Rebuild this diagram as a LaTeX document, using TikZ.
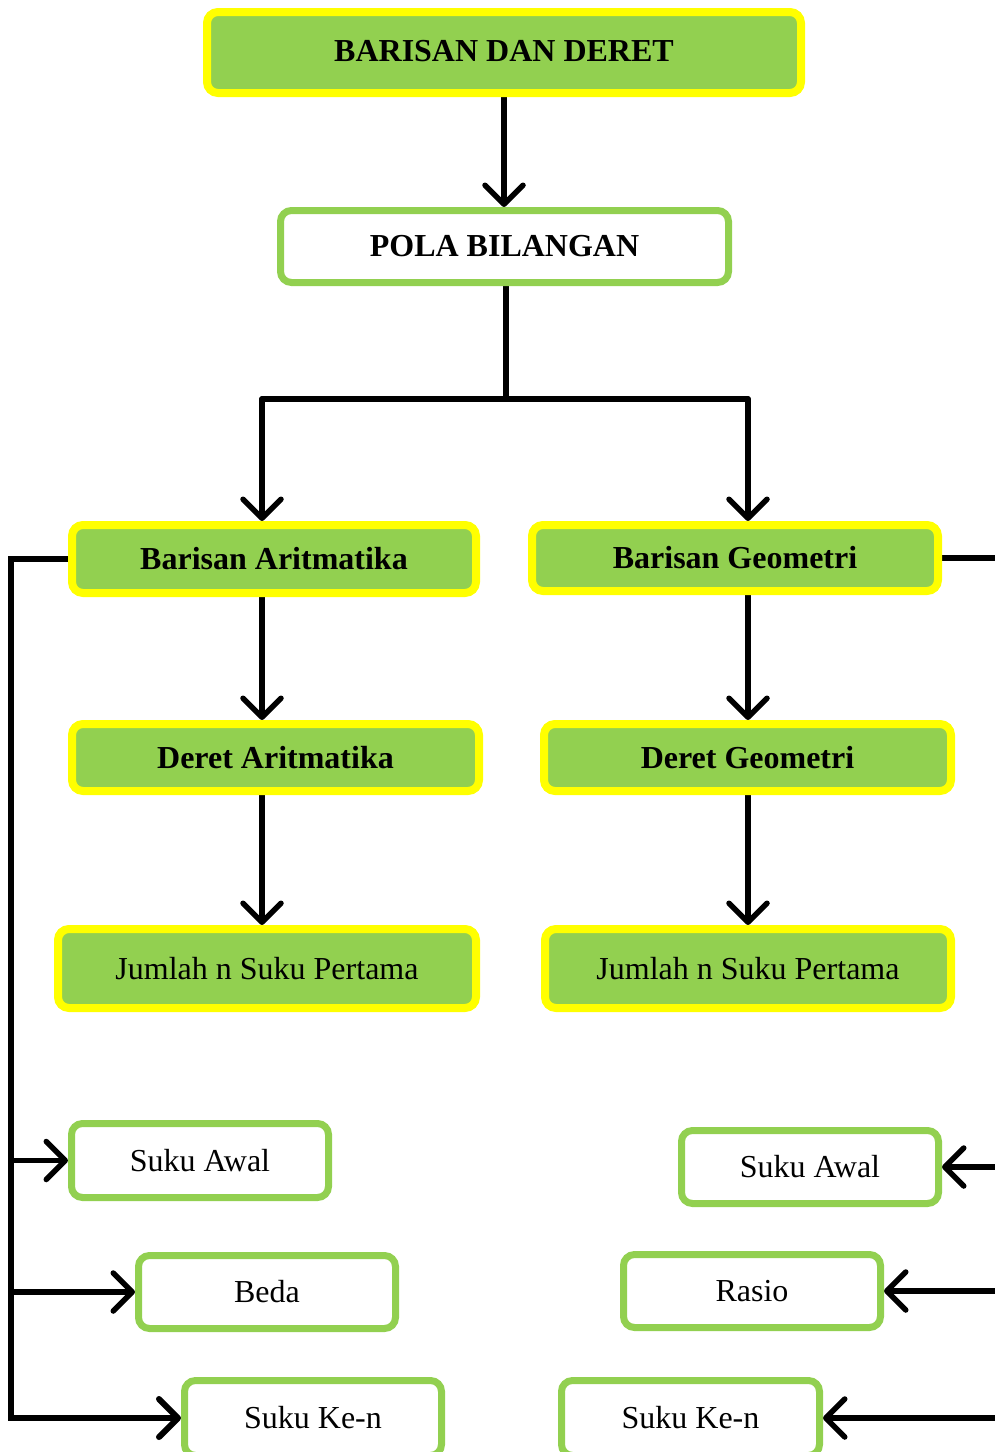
\documentclass[tikz,border=0pt]{standalone}
\usepackage{fontspec}
\setmainfont{Liberation Serif}
\usetikzlibrary{arrows.meta,backgrounds}
\definecolor{lgreen}{HTML}{92D050}
\definecolor{yel}{HTML}{FFFF00}
\begin{document}
\begin{tikzpicture}[x=1pt,y=-1pt,
  base/.style={rounded corners=11pt, inner sep=0pt, align=center,
    font=\fontsize{32}{38}\selectfont},
  ybox/.style={base, draw=yel, line width=8pt, fill=lgreen},
  gbox/.style={base, draw=lgreen, line width=7pt, fill=white},
  conn/.style={line width=5.5pt, line cap=round},
  arr/.style={conn, -{Straight Barb[length=19pt,width=38pt,round]}},
  bus/.style={line width=6pt, line join=miter}
]
\useasboundingbox (0,0) rectangle (995,1452);

\node[ybox, minimum width=594pt, minimum height=81pt] (top) at (504,52.5) {\raisebox{3pt}{\textbf{BARISAN DAN DERET}}};
\node[gbox, minimum width=448pt, minimum height=72pt] (pola) at (504.5,246.5) {\textbf{POLA BILANGAN}};

\node[ybox, minimum width=404pt, minimum height=68pt] (ba) at (274,559) {\textbf{Barisan Aritmatika}};
\node[ybox, minimum width=406pt, minimum height=66pt] (bg) at (735,558) {\textbf{Barisan Geometri}};
\node[ybox, minimum width=407pt, minimum height=67pt] (da) at (275.5,757.5) {\textbf{Deret Aritmatika}};
\node[ybox, minimum width=407pt, minimum height=67pt] (dg) at (747.5,757.5) {\textbf{Deret Geometri}};
\node[ybox, minimum width=418pt, minimum height=79pt] (ja) at (267,968.5) {Jumlah n Suku Pertama};
\node[ybox, minimum width=406pt, minimum height=79pt] (jg) at (748,968.5) {Jumlah n Suku Pertama};

\node[gbox, minimum width=257pt, minimum height=74pt] (lsa) at (200,1160.5) {Suku Awal};
\node[gbox, minimum width=257pt, minimum height=73pt] (lbd) at (267,1292) {Beda};
\node[gbox, minimum width=257pt, minimum height=75pt] (lkn) at (313,1418) {Suku Ke-n};
\node[gbox, minimum width=257pt, minimum height=73pt] (rsa) at (810,1167) {Suku Awal};
\node[gbox, minimum width=257pt, minimum height=73pt] (rra) at (752,1291) {Rasio};
\node[gbox, minimum width=258pt, minimum height=75pt] (rkn) at (690.5,1418) {Suku Ke-n};

\coordinate (jl) at (262,399);
\coordinate (jr) at (748,399);
\coordinate (jc) at (506,399);
\coordinate (lb) at (11,1418);
\coordinate (rb) at (1000,1418);

\begin{scope}[on background layer]
\draw[arr] (top.south) -- (top.south |- pola.north);
\draw[conn] (jc |- pola.south) -- (jc);
\draw[conn] (jl) -- (jr);
\draw[arr] (jl) -- (jl |- ba.north);
\draw[arr] (jr) -- (jr |- bg.north);
\draw[arr] (jl |- ba.south) -- (jl |- da.north);
\draw[arr] (jr |- bg.south) -- (jr |- dg.north);
\draw[arr] (jl |- da.south) -- (jl |- ja.north);
\draw[arr] (jr |- dg.south) -- (jr |- jg.north);

\draw[bus, -{Straight Barb[length=19pt,width=38pt,round]}] (ba.west) -- (ba.west -| lb) -- (lb) -- (lkn.west);
\draw[arr] (lb |- lsa.west) -- (lsa.west);
\draw[arr] (lb |- lbd.west) -- (lbd.west);

\draw[bus] (bg.east) -- (bg.east -| rb);
\draw[arr] (rb |- rsa.east) -- (rsa.east);
\draw[arr] (rb |- rra.east) -- (rra.east);
\draw[arr] (rb |- rkn.east) -- (rkn.east);
\end{scope}
\end{tikzpicture}
\end{document}
